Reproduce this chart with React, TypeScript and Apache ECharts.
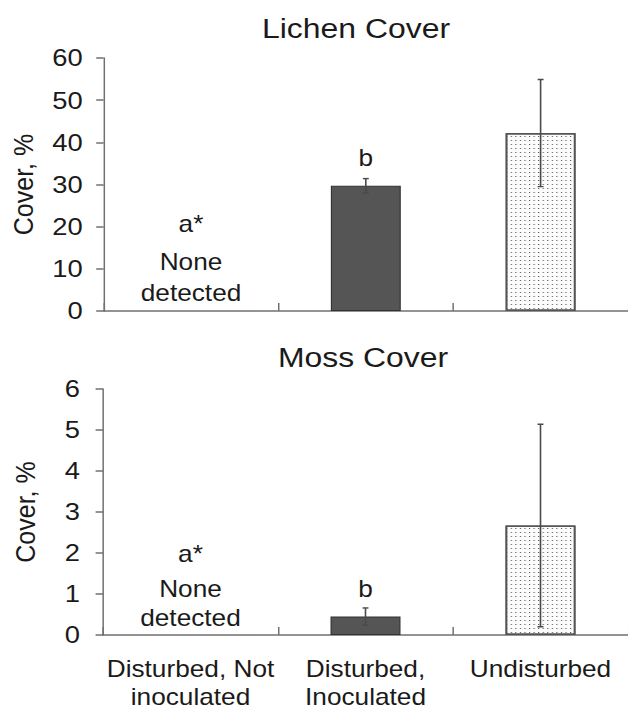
import React, { useEffect, useRef } from "react";
import * as echarts from "echarts";

const categories = ["Disturbed, Not\ninoculated", "Disturbed,\nInoculated", "Undisturbed"];

const lichenMean = [0, 29.7, 42.2];
const lichenErr = [0, 1.7, 12.7];
const mossMean = [0, 0.45, 2.67];
const mossErr = [0, 0.21, 2.47];

// annotation texts: [category index, y value, text]
const lichenNotes: [number, number, string][] = [
  [0, 20.6, "a*"],
  [0, 11.7, "None"],
  [0, 4.2, "detected"],
  [1, 36.3, "b"],
];
const mossNotes: [number, number, string][] = [
  [0, 1.97, "a*"],
  [0, 1.13, "None"],
  [0, 0.42, "detected"],
  [1, 1.11, "b"],
];

const FONT = "'Liberation Sans', Arial, sans-serif";
const TXT = "#1a1a1a";
const AX = "#707070";
// the reference figure is stretched horizontally
const S = 1.14;
const W = 628 / S;

export default function App() {
  const ref = useRef<HTMLDivElement>(null);
  useEffect(() => {
    if (!ref.current) return;
    const chart = echarts.init(ref.current, undefined, { renderer: "svg" });

    const barStyles = [
      { color: "transparent", borderWidth: 0 },
      { color: "#555555", borderColor: "#333333", borderWidth: 1 },
      {
        color: "#fcfcfc",
        borderColor: "#555555",
        borderWidth: 1.5,
        decal: {
          symbol: "rect",
          symbolSize: 1,
          color: "#555555",
          dashArrayX: [1, 3],
          dashArrayY: [1, 2.5],
          rotation: 0,
        },
      },
    ];

    const errRender = (params: any, api: any) => {
      const x = api.value(0);
      const lo = api.value(1);
      const hi = api.value(2);
      if (hi === lo) return null;
      const a = api.coord([x, lo]);
      const b = api.coord([x, hi]);
      const cap = 2.6;
      const st = { stroke: "#4a4a4a", lineWidth: 1.4 };
      return {
        type: "group",
        children: [
          { type: "line", shape: { x1: a[0], y1: a[1], x2: b[0], y2: b[1] }, style: st },
          { type: "line", shape: { x1: b[0] - cap, y1: b[1], x2: b[0] + cap, y2: b[1] }, style: st },
          { type: "line", shape: { x1: a[0] - cap, y1: a[1], x2: a[0] + cap, y2: a[1] }, style: st },
        ],
      };
    };

    const xAxisBase = (gridIndex: number, showLabel: boolean) => ({
      gridIndex,
      type: "category",
      data: categories,
      boundaryGap: true,
      axisLine: { show: true, lineStyle: { color: AX, width: 1.5 } },
      axisTick: { show: true, inside: true, length: 8, lineStyle: { color: AX, width: 1.3 } },
      axisLabel: {
        show: showLabel,
        interval: 0,
        color: TXT,
        fontFamily: FONT,
        fontSize: 23,
        lineHeight: 28,
        margin: 20,
      },
      splitLine: { show: false },
    });

    const yAxisBase = (gridIndex: number, max: number, interval: number, margin: number, nameGap: number) => ({
      gridIndex,
      type: "value",
      min: 0,
      max,
      interval,
      name: "Cover, %",
      nameLocation: "middle",
      nameRotate: 90,
      nameGap,
      nameTextStyle: { color: TXT, fontFamily: FONT, fontSize: 25 },
      axisLine: { show: true, lineStyle: { color: AX, width: 1.3 } },
      axisTick: { show: true, inside: false, length: 6.5, lineStyle: { color: AX, width: 1.5 } },
      axisLabel: { color: TXT, fontFamily: FONT, fontSize: 24, margin },
      splitLine: { show: false },
    });

    const notesSeries = (idx: number, notes: [number, number, string][]) => ({
      type: "scatter",
      xAxisIndex: idx,
      yAxisIndex: idx,
      symbolSize: 0,
      silent: true,
      z: 5,
      itemStyle: { opacity: 1 },
      data: notes.map((n) => ({ value: [n[0], n[1]], name: n[2] })),
      label: {
        show: true,
        position: "inside",
        formatter: (p: any) => p.name,
        color: TXT,
        opacity: 1,
        fontFamily: FONT,
        fontSize: 23,
      },
    });

    chart.setOption({
      animation: false,
      backgroundColor: "#ffffff",
      graphic: [
        {
          type: "text",
          x: 356 / S,
          y: 28,
          style: {
            text: "Lichen Cover",
            fill: TXT,
            font: `28px ${FONT}`,
            textAlign: "center",
            textVerticalAlign: "middle",
          },
        },
        {
          type: "text",
          x: 363 / S,
          y: 357,
          style: {
            text: "Moss Cover",
            fill: TXT,
            font: `28px ${FONT}`,
            textAlign: "center",
            textVerticalAlign: "middle",
          },
        },
      ],
      grid: [
        { left: 101 / S, top: 58, width: 527 / S, height: 253 },
        { left: 103 / S, top: 389, width: 525 / S, height: 247 },
      ],
      xAxis: [xAxisBase(0, false), xAxisBase(1, true)],
      yAxis: [yAxisBase(0, 60, 10, 21 / S, 66 / S), yAxisBase(1, 6, 1, 23 / S, 63 / S)],
      series: [
        {
          type: "bar",
          xAxisIndex: 0,
          yAxisIndex: 0,
          barWidth: "40%",
          data: lichenMean.map((v, i) => ({ value: v, itemStyle: barStyles[i] })),
        },
        {
          type: "custom",
          xAxisIndex: 0,
          yAxisIndex: 0,
          z: 4,
          renderItem: errRender,
          encode: { x: 0, y: [1, 2] },
          data: lichenMean.map((m, i) => [i, m - lichenErr[i], m + lichenErr[i]]),
        },
        notesSeries(0, lichenNotes),
        {
          type: "bar",
          xAxisIndex: 1,
          yAxisIndex: 1,
          barWidth: "40%",
          data: mossMean.map((v, i) => ({ value: v, itemStyle: barStyles[i] })),
        },
        {
          type: "custom",
          xAxisIndex: 1,
          yAxisIndex: 1,
          z: 4,
          renderItem: errRender,
          encode: { x: 0, y: [1, 2] },
          data: mossMean.map((m, i) => [i, m - mossErr[i], m + mossErr[i]]),
        },
        notesSeries(1, mossNotes),
      ],
    });
    return () => chart.dispose();
  }, []);
  return (
    <div
      ref={ref}
      style={{
        position: "absolute",
        left: 0,
        top: 0,
        width: W,
        height: 711,
        transform: `scaleX(${S})`,
        transformOrigin: "0 0",
      }}
    />
  );
}
